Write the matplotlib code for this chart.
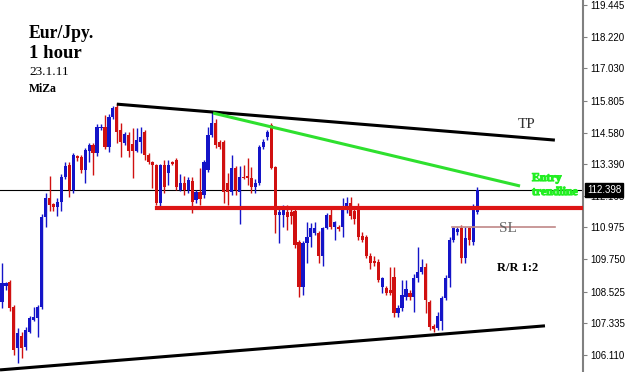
import numpy as np
import matplotlib
matplotlib.use("Agg")
import matplotlib.pyplot as plt
import matplotlib.patheffects as pe

# Eur/Jpy 1 hour candles
opens = [108.13, 108.72, 108.88, 107.93, 106.38, 106.85, 106.42, 107.00, 107.45, 107.52,
         107.94, 111.37, 112.10, 111.85, 111.75, 111.95, 112.90, 113.35, 112.40, 113.70,
         113.65, 113.16, 113.90, 114.10, 113.80, 114.75, 114.78, 114.03, 115.18, 115.57,
         114.68, 114.20, 114.50, 114.15, 113.90, 114.23, 114.60, 113.73, 113.46, 113.35,
         111.90, 113.35, 113.05, 113.45, 113.54, 112.40, 112.65, 112.40, 112.75, 112.00,
         112.32, 112.20, 113.16, 114.50, 114.96, 114.23, 114.23, 112.67, 112.32, 113.23,
         112.32, 112.90, 112.95, 112.85, 112.50, 112.67, 114.03, 114.40, 114.87, 113.27,
         111.44, 111.44, 111.56, 111.56, 111.60, 110.40, 108.70, 110.37, 110.60, 110.75,
         110.75, 109.90, 110.95, 111.44, 110.99, 111.00, 110.99, 111.75, 111.90, 111.60,
         111.80, 110.65, 110.60, 109.90, 109.70, 109.65, 108.70, 108.67, 108.59, 109.09,
         107.70, 107.90, 108.30, 108.47, 108.30, 109.05, 109.27, 109.45, 108.13, 107.20,
         107.14, 107.40, 108.28, 109.05, 110.49, 110.80, 110.95, 109.80, 110.95, 110.40,
         111.56]
highs = [109.61, 108.90, 108.95, 108.00, 107.14, 107.00, 107.18, 107.60, 107.94, 108.00,
         111.50, 112.30, 112.95, 111.90, 112.10, 113.00, 113.45, 113.45, 113.80, 113.75,
         113.75, 114.00, 114.20, 114.20, 114.90, 114.90, 115.25, 115.30, 115.60, 115.70,
         114.95, 114.60, 114.60, 114.77, 114.77, 114.80, 114.70, 113.80, 113.50, 113.40,
         113.40, 113.54, 113.54, 113.50, 113.60, 113.00, 112.95, 112.90, 112.90, 112.40,
         113.23, 113.54, 114.80, 115.37, 115.10, 114.30, 114.30, 113.05, 113.73, 113.30,
         113.30, 113.35, 113.60, 113.27, 112.80, 114.10, 114.35, 114.70, 114.95, 113.30,
         111.75, 111.82, 111.82, 111.70, 111.70, 110.50, 110.45, 111.18, 111.15, 111.18,
         110.85, 111.00, 111.52, 111.75, 111.22, 111.05, 112.10, 112.13, 112.13, 111.70,
         111.90, 110.80, 110.70, 110.00, 109.90, 109.75, 109.10, 108.75, 109.45, 109.45,
         108.00, 108.97, 108.97, 108.60, 109.20, 110.22, 109.75, 109.60, 108.20, 107.30,
         107.75, 108.35, 109.15, 110.60, 111.00, 111.00, 111.05, 110.99, 111.00, 111.85,
         112.50]
lows = [107.90, 108.60, 107.80, 106.11, 105.80, 106.00, 106.30, 106.95, 107.40, 106.80,
        107.85, 110.99, 111.60, 111.60, 111.40, 111.60, 112.80, 112.13, 112.30, 113.50,
        113.05, 112.66, 113.46, 112.97, 113.70, 114.70, 113.95, 113.85, 115.10, 114.20,
        113.66, 114.10, 113.66, 112.85, 113.85, 113.80, 113.54, 113.40, 112.47, 111.82,
        111.80, 112.30, 112.58, 113.35, 112.40, 112.35, 112.20, 112.30, 111.52, 111.90,
        111.82, 112.10, 113.10, 114.40, 113.98, 113.95, 111.90, 111.82, 112.20, 112.20,
        111.10, 112.80, 112.60, 112.28, 112.30, 112.60, 113.95, 114.30, 113.20, 110.76,
        110.38, 110.99, 110.87, 111.10, 110.20, 108.33, 108.40, 109.60, 110.24, 110.70,
        109.60, 109.50, 110.90, 110.90, 110.50, 110.85, 110.60, 111.52, 111.30, 111.10,
        110.50, 110.40, 109.80, 109.40, 109.50, 108.90, 108.47, 108.40, 108.40, 107.56,
        107.56, 107.80, 108.20, 108.20, 107.75, 108.90, 109.20, 107.70, 107.06, 107.00,
        107.06, 107.06, 108.20, 108.70, 110.40, 110.70, 109.60, 109.60, 110.30, 110.30,
        111.50]
closes = [108.85, 108.85, 107.90, 106.30, 106.95, 106.38, 107.06, 107.52, 107.56, 107.94,
          111.37, 112.10, 111.83, 111.75, 111.95, 112.90, 113.30, 112.40, 113.73, 113.60,
          113.16, 113.92, 114.10, 113.80, 114.80, 114.80, 114.03, 115.18, 115.52, 114.60,
          114.23, 114.55, 113.90, 113.90, 114.30, 114.42, 113.73, 113.46, 113.35, 111.90,
          113.35, 112.50, 113.35, 113.40, 112.50, 112.65, 112.40, 112.78, 111.94, 112.32,
          112.05, 113.46, 114.49, 114.96, 114.10, 114.03, 112.32, 112.32, 113.23, 112.40,
          112.90, 112.85, 112.85, 112.50, 112.67, 114.03, 114.23, 114.60, 113.23, 111.44,
          111.56, 111.63, 111.37, 111.40, 110.30, 108.70, 110.37, 110.60, 110.95, 110.95,
          109.90, 110.95, 111.44, 110.99, 111.18, 110.90, 111.75, 111.90, 111.40, 111.30,
          110.60, 110.50, 109.90, 109.60, 109.60, 108.97, 109.05, 108.47, 108.47, 107.71,
          107.90, 108.40, 108.63, 108.30, 109.05, 109.27, 109.45, 108.20, 107.18, 107.10,
          107.60, 108.28, 109.05, 110.49, 110.95, 110.90, 109.80, 110.56, 110.49, 111.75,
          112.40]

# drawn levels / trendlines (bar index, price)
tp_line_x = [29.0, 139.6]
tp_line_y = [115.67, 114.30]
support_x = [-0.5, 137.1]
support_y = [105.54, 107.22]
entry_x = [53.3, 130.8]
entry_y = [115.33, 112.55]
red_level_x0 = 39.1
red_level = 111.73
sl_x = [113.6, 139.6]
sl_level = 110.99
last_price = 112.398

yticks = [119.445, 118.220, 117.030, 115.805, 114.580, 113.390, 112.165,
          110.975, 109.750, 108.525, 107.335, 106.110]

fig = plt.figure(figsize=(6.25, 3.72), dpi=100)
ax = fig.add_axes([0, 0, 583 / 625, 1])

xs = np.arange(len(opens))
o = np.array(opens)
c = np.array(closes)
up = c >= o
cols = np.where(up, "#1414c8", "#d01010")

ax.vlines(xs, lows, highs, colors=cols, linewidth=1.0, zorder=2)
bottom = np.minimum(o, c)
height = np.maximum(np.abs(c - o), 0.06)
ax.bar(xs, height, bottom=bottom, width=0.8, color=cols, linewidth=0, zorder=3)

# lines
ax.axhline(last_price, color="black", linewidth=0.8, zorder=1)
ax.plot(tp_line_x, tp_line_y, color="black", linewidth=2.2, solid_capstyle="butt", zorder=4)
ax.plot(support_x, support_y, color="black", linewidth=2.2, solid_capstyle="butt", zorder=4)
ax.plot(entry_x, entry_y, color="#2ee02e", linewidth=2.2, solid_capstyle="butt", zorder=4)
ax.plot([red_level_x0, 147], [red_level, red_level], color="#dd1515", linewidth=3.0, zorder=4)
ax.plot(sl_x, [sl_level, sl_level], color="#c08888", linewidth=1.2, zorder=4)

ax.set_xlim(-0.5, 146.7)
ax.set_ylim(105.46, 119.64)

for s in ["top", "left", "bottom"]:
    ax.spines[s].set_visible(False)
ax.spines["right"].set_color("#808080")
ax.spines["right"].set_linewidth(1.5)
ax.set_xticks([])
ax.yaxis.tick_right()
ax.set_yticks(yticks)
ax.set_yticklabels([f"{v:.3f}" for v in yticks])
ax.tick_params(axis="y", length=3, width=0.8, color="#808080", labelsize=7, pad=2)
for lab in ax.get_yticklabels():
    lab.set_fontfamily("Liberation Sans")

# texts
serif = "Liberation Serif"
def ft(x, y, s, **kw):
    fig.text(x / 625, 1 - y / 372, s, **kw)

ft(29, 25, "Eur/Jpy.", fontsize=12.7, fontweight="bold", family=serif, va="top")
ft(29, 45, "1 hour", fontsize=13.5, fontweight="bold", family=serif, va="top")
ft(29, 66, "23.1.11", fontsize=9.5, family=serif, va="top")
ft(29, 83, "MiZa", fontsize=8.5, fontweight="bold", family=serif, va="top")
ft(527, 125, "TP", fontsize=11, family=serif, color="#333333", ha="center", va="center")
ft(508, 228, "SL", fontsize=11, family=serif, color="#666666", ha="center", va="center")
ft(518, 268, "R/R 1:2", fontsize=9, fontweight="bold", family=serif, ha="center", va="center")
heavy = [pe.withStroke(linewidth=0.8, foreground="#22ee22")]
ft(532, 178, "Entry", fontsize=8.5, fontweight="bold", family=serif, color="#22ee22",
   va="center", path_effects=heavy)
ft(532, 192, "trendline", fontsize=8.5, fontweight="bold", family=serif, color="#22ee22",
   va="center", path_effects=heavy)
ft(587, 190, f"{last_price:.3f}", fontsize=7, color="white", family="Liberation Sans", va="center",
   bbox=dict(facecolor="black", edgecolor="black", pad=1.2))

fig.savefig("out.png", dpi=100, facecolor="white")
